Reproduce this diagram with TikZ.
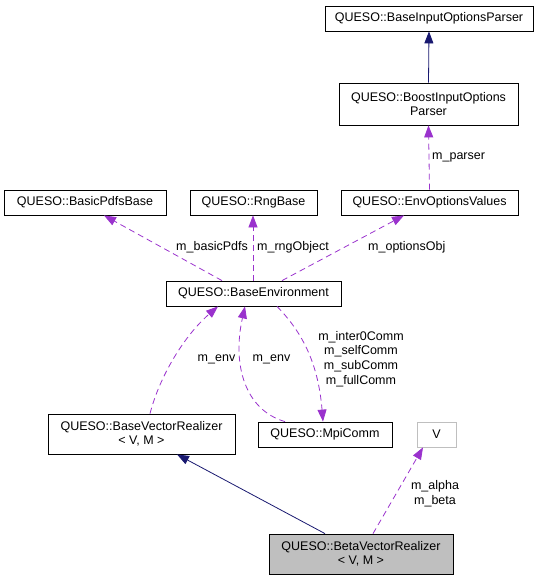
\documentclass[tikz,border=0pt]{standalone}
\usepackage{fontspec}
\setmainfont{Liberation Sans}
\usetikzlibrary{arrows.meta}
\definecolor{edgeblue}{HTML}{191970}
\definecolor{edgepurple}{HTML}{9A32CD}
\definecolor{boxgray}{HTML}{BFBFBF}

\begin{document}
\begin{tikzpicture}[x=1pt,y=-1pt,
  classbox/.style={draw=black, line width=0.8pt, fill=white, inner sep=0pt, minimum height=25pt, align=center, font=\fontsize{12.5}{14.5}\selectfont},
  inheritedge/.style={draw=edgeblue, line width=0.8pt, -{Triangle[length=12pt,width=9pt,fill=edgeblue]}},
  usesedge/.style={draw=edgepurple, line width=0.8pt, dash pattern=on 6pt off 4pt, -{Triangle[length=12pt,width=9pt,fill=edgepurple]}},
  edgelabel/.style={inner sep=0pt, align=center, font=\fontsize{12.5}{14.7}\selectfont}]
\useasboundingbox (0,0) rectangle (541,581);
\node[classbox, minimum width=208pt] (baseparser) at (429,18.5) {QUESO::BaseInputOptionsParser};
\node[classbox, minimum width=179pt, minimum height=42pt] (boostparser) at (428.5,104) {QUESO::BoostInputOptions\\Parser};
\node[classbox, minimum width=177pt] (envopts) at (429.5,202.5) {QUESO::EnvOptionsValues};
\node[classbox, minimum width=162pt] (basicpdfs) at (85,202.5) {QUESO::BasicPdfsBase};
\node[classbox, minimum width=127pt] (rngbase) at (253.5,202.5) {QUESO::RngBase};
\node[classbox, minimum width=175pt] (baseenv) at (253.5,293.5) {QUESO::BaseEnvironment};
\node[classbox, minimum width=187pt, minimum height=40pt] (basevr) at (141.5,434) {QUESO::BaseVectorRealizer\\< V, M >};
\node[classbox, minimum width=134pt] (mpicomm) at (325,434.5) {QUESO::MpiComm};
\node[classbox, draw=boxgray, minimum width=39pt] (vparam) at (436.5,434.5) {V};
\node[classbox, fill=boxgray, minimum width=184pt, minimum height=40pt] (betavr) at (361,554) {QUESO::BetaVectorRealizer\\< V, M >};
\draw[inheritedge] (boostparser.north) -- (baseparser.south);
\draw[usesedge] (envopts.north) -- (boostparser.south);
\node[edgelabel, anchor=west] (lparser) at (432,157) {m\_parser};
\draw[usesedge] ([xshift=-31.5pt]baseenv.north) -- ([xshift=19pt]basicpdfs.south);
\node[edgelabel, anchor=east] (lpdfs) at (248,247) {m\_basicPdfs};
\draw[usesedge] ([xshift=-0.5pt]baseenv.north) -- ([xshift=-0.5pt]rngbase.south);
\node[edgelabel, anchor=west] (lrng) at (257,247) {m\_rngObject};
\draw[usesedge] ([xshift=28.5pt]baseenv.north) -- ([xshift=-25.5pt]envopts.south);
\node[edgelabel, anchor=west] (lopts) at (368,247) {m\_optionsObj};
\draw[usesedge] ([xshift=8.5pt]basevr.north) .. controls (160,375) and (185,335) .. ([xshift=-35.5pt]baseenv.south);
\node[edgelabel] (lenva) at (216.5,359) {m\_env};
\draw[usesedge] ([xshift=-40pt]mpicomm.north) .. controls (245,410) and (232,365) .. ([xshift=-8.5pt]baseenv.south);
\node[edgelabel] (lenvb) at (271.5,359) {m\_env};
\draw[usesedge] ([xshift=23.5pt]baseenv.south) .. controls (300,330) and (318,360) .. ([xshift=-2pt]mpicomm.north);
\node[edgelabel] (lcomm) at (361,359) {m\_inter0Comm\\m\_selfComm\\m\_subComm\\m\_fullComm};
\draw[inheritedge] ([xshift=-36pt]betavr.north) -- ([xshift=35.5pt]basevr.south);
\draw[usesedge] ([xshift=12pt]betavr.north) -- ([xshift=-13.5pt]vparam.south);
\node[edgelabel] (lab) at (435,494) {m\_alpha\\m\_beta};
\end{tikzpicture}
\end{document}
